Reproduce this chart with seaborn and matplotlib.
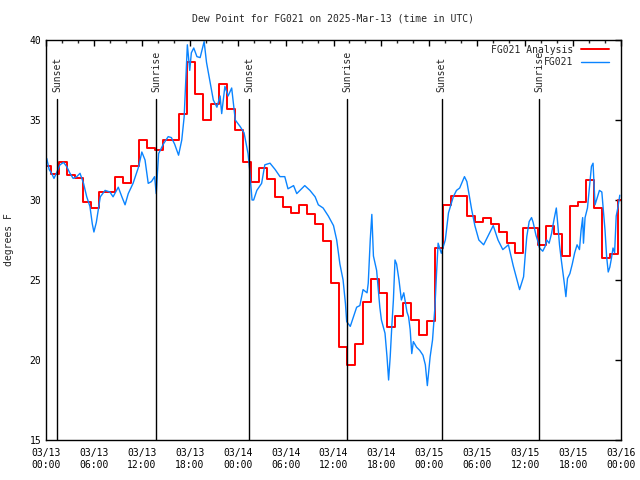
import pandas as pd
import numpy as np
import matplotlib
matplotlib.use('Agg')
import matplotlib.pyplot as plt
import matplotlib.dates as mdates
import seaborn as sns


# DATA
start = pd.Timestamp('2025-03-13 00:00')

# analysis (hourly values, step starts at hh-0:20 .. hh+0:40)
analysis_dewpt = [32.1, 31.6, 32.4, 31.55, 31.4, 29.9, 29.5, 30.5, 30.5, 31.45,
                  31.05, 32.1, 33.75, 33.25, 33.1, 33.75, 33.75, 35.4, 38.6, 36.6,
                  35.0, 36.0, 37.25, 35.7, 34.4, 32.4, 31.15, 32.0, 31.3, 30.2,
                  29.55, 29.2, 29.7, 29.1, 28.5, 27.45, 24.8, 20.8, 19.7, 21.0,
                  23.6, 25.05, 24.2, 22.05, 22.75, 23.55, 22.5, 21.55, 22.45, 27.0,
                  29.7, 30.25, 30.25, 29.0, 28.6, 28.9, 28.5, 28.0, 27.3, 26.7,
                  28.25, 28.25, 27.2, 28.4, 27.9, 26.5, 29.6, 29.85, 31.25, 29.5,
                  26.35, 26.6, 30.0, 30.0]

# station observations (hours after 03/13 00:00 UTC)
obs_hours = [0.09, 0.4, 0.7, 1.0, 1.3, 1.75, 2.2, 2.6, 3.0, 3.4, 3.85, 4.26, 4.7, 5.1, 5.5,
             5.8, 6.0, 6.3, 6.8, 7.4, 8.0, 8.4, 9.05, 9.5, 9.9, 10.3, 10.9, 11.6, 12.0,
             12.4, 12.8, 13.2, 13.6, 13.8, 14.1, 14.7, 15.3, 15.7, 16.1, 16.6, 17.0, 17.3,
             17.5, 17.7, 18.0, 18.2, 18.5, 18.9, 19.3, 19.8, 20.1, 20.5, 20.95, 21.4, 21.8,
             22.0, 22.4, 22.8, 23.25, 23.7, 24.3, 24.8, 25.3, 25.5, 25.8, 26.0, 26.4, 27.0,
             27.4, 28.05, 28.7, 29.3, 29.9, 30.3, 31.0, 31.4, 31.8, 32.4, 33.05, 33.7, 34.1,
             34.7, 35.35, 36.0, 36.4, 36.8, 37.2, 37.5, 37.65, 38.1, 38.5, 38.9, 39.3, 39.7,
             40.2, 40.35, 40.6, 40.8, 41.0, 41.4, 41.8, 42.0, 42.45, 42.7, 42.9, 43.1, 43.3,
             43.5, 43.7, 43.9, 44.2, 44.5, 44.8, 45.2, 45.4, 45.6, 45.8, 46.0, 46.4, 46.8,
             47.2, 47.5, 47.75, 48.1, 48.4, 48.7, 48.9, 49.1, 49.5, 50.0, 50.4, 51.0, 51.4,
             51.8, 52.4, 52.7, 53.1, 53.3, 53.7, 54.2, 54.8, 55.4, 56.0, 56.6, 57.2, 57.9,
             58.5, 59.3, 59.8, 60.0, 60.2, 60.5, 60.8, 61.0, 61.35, 61.6, 61.8, 62.2, 62.5,
             62.7, 63.0, 63.3, 63.6, 63.9, 64.1, 64.3, 64.5, 64.7, 64.9, 65.1, 65.3, 65.6,
             65.9, 66.2, 66.5, 66.8, 67.0, 67.2, 67.3, 67.5, 67.8, 68.1, 68.3, 68.5, 68.75,
             69.0, 69.3, 69.6, 69.8, 70.0, 70.2, 70.4, 70.6, 70.8, 71.0, 71.2, 71.4, 71.6,
             71.85]
obs_dewpt = [32.6, 31.9, 31.67, 31.35, 31.67, 32.2, 32.35, 32.08, 31.67, 31.35, 31.46, 31.67, 31.04, 30.2, 29.6,
             28.5, 28.0, 28.6, 30.2, 30.6, 30.5, 30.2, 30.8, 30.2, 29.7, 30.4, 31.04, 32.08, 33.0,
             32.5, 31.04, 31.15, 31.46, 30.4, 32.9, 33.5, 33.96, 33.9, 33.5, 32.8, 33.75, 35.2,
             37.5, 39.7, 38.1, 39.2, 39.5, 38.96, 38.9, 39.9, 38.6, 37.5, 36.25, 35.8, 36.5,
             35.4, 37.1, 36.5, 37.0, 35.0, 34.6, 34.2, 32.9, 31.9, 30.0, 30.0, 30.6, 31.04,
             32.2, 32.3, 31.9, 31.46, 31.46, 30.7, 30.9, 30.4, 30.6, 30.9, 30.6, 30.2, 29.7,
             29.5, 29.0, 28.4, 27.5, 26.0, 25.0, 23.5, 22.4, 22.1, 22.7, 23.3, 23.4, 24.4,
             24.2, 24.8, 27.5, 29.1, 26.5, 25.6, 23.3, 22.5, 21.67, 20.2, 18.75, 20.2, 22.1,
             23.75, 26.25, 26.0, 25.0, 23.75, 24.2, 23.0, 22.7, 21.9, 20.4, 21.15, 20.8, 20.6,
             20.3, 19.7, 18.4, 20.2, 21.25, 23.3, 25.4, 27.3, 26.67, 27.5, 29.2, 30.2, 30.6,
             30.75, 31.46, 31.15, 30.0, 29.4, 28.4, 27.5, 27.2, 27.8, 28.4, 27.5, 26.9, 27.2,
             25.9, 24.4, 25.2, 26.5, 27.7, 28.65, 28.9, 28.6, 27.8, 27.4, 27.0, 26.8, 27.1,
             27.5, 27.3, 27.9, 28.75, 29.5, 28.4, 27.2, 26.35, 25.6, 24.8, 23.96, 25.1, 25.4,
             26.0, 26.7, 27.2, 26.9, 28.1, 28.9, 27.3, 28.9, 29.5, 31.04, 32.1, 32.3, 29.7,
             30.1, 30.6, 30.5, 29.3, 28.1, 26.46, 25.5, 25.8, 26.35, 27.0, 26.7, 29.0, 29.5,
             30.3]

sun_events = ['Sunset', 'Sunrise', 'Sunset', 'Sunrise', 'Sunset', 'Sunrise']
sun_times = ['2025-03-13 01:25', '2025-03-13 13:48', '2025-03-14 01:28',
             '2025-03-14 13:44', '2025-03-15 01:32', '2025-03-15 13:46']


df_ana = pd.DataFrame({
    'time': pd.date_range('2025-03-12 23:40', periods=len(analysis_dewpt), freq='h'),
    'dewpt': analysis_dewpt})
df_obs = pd.DataFrame({
    'time': start + pd.to_timedelta(obs_hours, unit='h'),
    'dewpt': obs_dewpt})


# GRAFICA
sns.set_style('white')
plt.rcParams['font.family'] = ['DejaVu Sans Mono']
plt.rcParams['font.size'] = 7

fig = plt.figure(figsize=(6.4, 4.8), dpi=100)
ax = fig.add_axes([46/640, 40/480, 575/640, 400/480])

sns.lineplot(data=df_ana, x='time', y='dewpt', ax=ax, color='#ff0000', lw=1.4,
             drawstyle='steps-post', estimator=None, label='FG021 Analysis')
sns.lineplot(data=df_obs, x='time', y='dewpt', ax=ax, color='#0a84ff', lw=1.0,
             estimator=None, label='FG021')

for name, t in zip(sun_events, sun_times):
    t = pd.Timestamp(t)
    ax.plot([t, t], [15, 36.3], color='black', lw=1)
    ax.text(t, 36.75, name, rotation=90, ha='center', va='bottom', fontsize=7)

ax.set_xlim(start, pd.Timestamp('2025-03-16 00:00'))
ax.set_ylim(15, 40)
ax.set_yticks([15, 20, 25, 30, 35, 40])
ax.xaxis.set_major_locator(mdates.HourLocator(byhour=[0, 6, 12, 18]))
ax.xaxis.set_minor_locator(mdates.HourLocator(interval=2))
ax.xaxis.set_major_formatter(mdates.DateFormatter('%m/%d\n%H:%M'))
ax.tick_params(which='major', direction='in', length=4, width=1, top=True, right=True,
               labelsize=7, colors='black')
ax.tick_params(which='minor', direction='in', length=2, width=1, top=True, right=False)
ax.tick_params(axis='x', pad=6)
for s in ax.spines.values():
    s.set_color('black')
    s.set_linewidth(1)

ax.set_xlabel('')
ax.set_ylabel('degrees F', fontsize=7)
ax.yaxis.set_label_coords(-0.056, 0.5)
ax.set_title('Dew Point for FG021 on 2025-Mar-13 (time in UTC)', fontsize=7, pad=13)

ax.legend(loc='upper right', bbox_to_anchor=(1 - 8/575, 1 - 1/400), borderaxespad=0,
          frameon=False, markerfirst=False, fontsize=7,
          handlelength=2.9, labelspacing=0.25, handletextpad=0.8)

fig.savefig('out.png', dpi=100)
